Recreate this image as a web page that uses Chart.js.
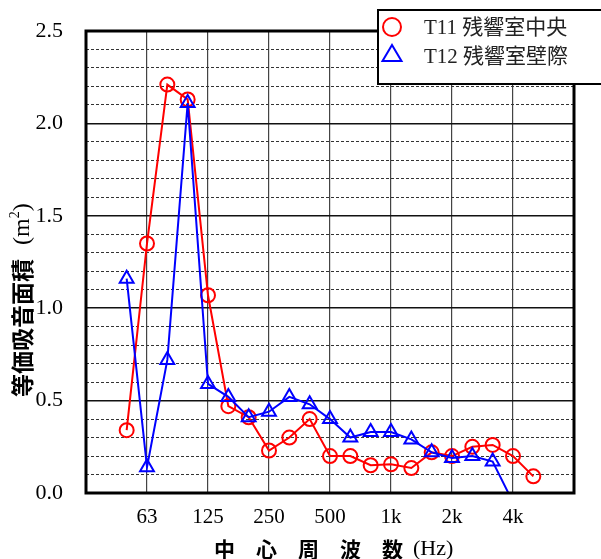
<!DOCTYPE html>
<html>
<head>
<meta charset="utf-8">
<script src="https://cdn.jsdelivr.net/npm/chart.js@4.4.1/dist/chart.umd.min.js"></script>
<style>
body { margin: 0; background: #fff; }
canvas { display: block; }
</style>
</head>
<body>
<canvas id="absorptionChart" width="601" height="559"></canvas>
<script>
// 1/3 octave bands, 31.5 Hz .. 8 kHz
const bands = ['31.5', '40', '50', '63', '80', '100', '125', '160', '200', '250', '315', '400', '500',
    '630', '800', '1k', '1.25k', '1.6k', '2k', '2.5k', '3.15k', '4k', '5k', '6.3k', '8k'];
const shownBands = ['63', '125', '250', '500', '1k', '2k', '4k'];
const seriesNames = ['T11 残響室中央', 'T12 残響室壁際'];

const t11Center = [null, null, 0.34, 1.35, 2.21, 2.13, 1.07, 0.47, 0.41, 0.23, 0.30, 0.40, 0.20,
    0.20, 0.15, 0.155, 0.135, 0.22, 0.20, 0.25, 0.26, 0.20, 0.09, null, null];
const t12Wall = [null, null, 1.16, 0.14, 0.72, 2.11, 0.59, 0.52, 0.41, 0.44, 0.52, 0.48, 0.40,
    0.30, 0.33, 0.33, 0.29, 0.22, 0.19, 0.20, 0.17, -0.05, null, null, null];

const serif = "'Liberation Serif', 'Times New Roman', serif";
const gothic = "'Noto Sans CJK JP', sans-serif";

function isMajor(value) {
    return Math.round(value * 10) % 5 === 0;
}

const decorPlugin = {
    id: 'decor',
    afterDatasetsDraw(chart) {
        const ctx = chart.ctx;
        const a = chart.chartArea;
        ctx.save();
        ctx.strokeStyle = '#000';
        ctx.lineWidth = 3;
        ctx.strokeRect(a.left, a.top, a.right - a.left, a.bottom - a.top);
        ctx.restore();
    },
    afterDraw(chart) {
        const ctx = chart.ctx;
        ctx.save();

        // legend box
        ctx.fillStyle = '#fff';
        ctx.fillRect(378, 10, 230, 74);
        ctx.strokeStyle = '#000';
        ctx.lineWidth = 2;
        ctx.strokeRect(378, 10, 230, 74);

        ctx.lineWidth = 2;
        ctx.strokeStyle = '#ff0000';
        ctx.beginPath();
        ctx.arc(392, 27, 9, 0, Math.PI * 2);
        ctx.stroke();

        ctx.strokeStyle = '#0000ff';
        ctx.beginPath();
        ctx.moveTo(392, 45);
        ctx.lineTo(401.5, 61);
        ctx.lineTo(382.5, 61);
        ctx.closePath();
        ctx.stroke();

        ctx.fillStyle = '#222';
        ctx.textBaseline = 'middle';
        ctx.textAlign = 'left';
        ctx.font = "21px " + serif + ", " + gothic;
        ctx.fillText(seriesNames[0], 424, 28);
        ctx.fillText(seriesNames[1], 424, 57);

        // x title
        ctx.fillStyle = '#000';
        ctx.font = "bold 21px " + gothic;
        ctx.fillText('中\u3000心\u3000周\u3000波\u3000数', 214, 549);
        ctx.font = "22px " + serif;
        ctx.fillText('(Hz)', 413, 549);

        // y title
        ctx.translate(22, 397);
        ctx.rotate(-Math.PI / 2);
        ctx.font = "bold 23px " + gothic;
        ctx.fillText('等価吸音面積', 0, 0);
        let x = ctx.measureText('等価吸音面積').width + 14;
        ctx.font = "24px " + serif;
        ctx.fillText('(m', x, 1);
        x += ctx.measureText('(m').width;
        ctx.font = "14px " + serif;
        ctx.fillText('2', x, -7);
        x += ctx.measureText('2').width;
        ctx.font = "24px " + serif;
        ctx.fillText(')', x, 1);

        ctx.restore();
    }
};

const ctx = document.getElementById('absorptionChart').getContext('2d');
const absorptionChart = new Chart(ctx, {
    type: 'line',
    data: {
        labels: bands,
        datasets: [{
            label: seriesNames[0],
            data: t11Center,
            borderColor: '#ff0000',
            borderWidth: 2,
            pointStyle: 'circle',
            pointRadius: 7,
            pointBorderWidth: 2,
            pointBorderColor: '#ff0000',
            pointBackgroundColor: 'rgba(0,0,0,0)',
            tension: 0,
            clip: 1,
            order: 1
        }, {
            label: seriesNames[1],
            data: t12Wall,
            borderColor: '#0000ff',
            borderWidth: 2,
            pointStyle: 'triangle',
            pointRadius: (c) => (c.raw !== null && c.raw < 0) ? 0 : 8,
            pointBorderWidth: 2,
            pointBorderColor: '#0000ff',
            pointBackgroundColor: 'rgba(0,0,0,0)',
            tension: 0,
            clip: 1,
            order: 0
        }]
    },
    options: {
        responsive: false,
        animation: false,
        layout: {
            padding: { top: 31, right: 27, left: 0, bottom: 0 }
        },
        plugins: {
            legend: { display: false },
            tooltip: { enabled: false },
            title: { display: false }
        },
        scales: {
            x: {
                type: 'category',
                offset: false,
                afterFit: (scale) => { scale.height = 66; },
                border: { display: false },
                grid: {
                    drawTicks: false,
                    color: (c) => (c.index % 3 === 0) ? '#444' : 'rgba(0,0,0,0)',
                    lineWidth: 1.2
                },
                ticks: {
                    autoSkip: false,
                    maxRotation: 0,
                    padding: 12,
                    color: '#000',
                    font: { family: serif, size: 21 },
                    callback: function (value) {
                        const label = this.getLabelForValue(value);
                        return shownBands.includes(label) ? label : '';
                    }
                }
            },
            y: {
                min: 0,
                max: 2.5,
                afterFit: (scale) => {
                    scale.width = 86;
                    scale.paddingTop = 0;
                    scale.paddingBottom = 0;
                },
                border: {
                    display: false,
                    dash: (c) => (c.tick && !isMajor(c.tick.value)) ? [3, 2] : []
                },
                grid: {
                    drawTicks: false,
                    color: (c) => (c.tick && isMajor(c.tick.value)) ? '#111' : '#333',
                    lineWidth: (c) => (c.tick && isMajor(c.tick.value)) ? 1.5 : 1
                },
                ticks: {
                    stepSize: 0.1,
                    maxTicksLimit: 40,
                    autoSkip: false,
                    padding: 23,
                    color: '#000',
                    font: { family: serif, size: 22 },
                    callback: (value) => isMajor(value) ? value.toFixed(1) : ''
                }
            }
        }
    },
    plugins: [decorPlugin]
});
</script>
</body>
</html>
